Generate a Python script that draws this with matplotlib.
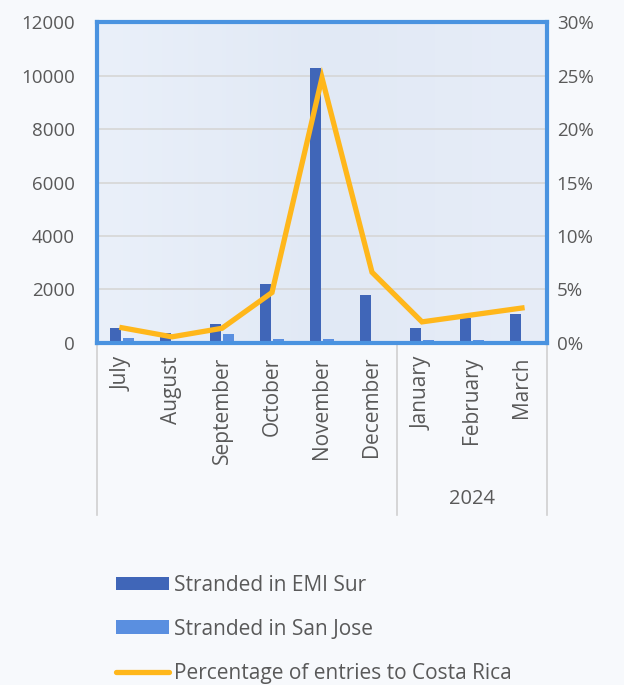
import matplotlib
matplotlib.use("Agg")
import matplotlib.pyplot as plt
import numpy as np
from matplotlib.patches import Patch
from matplotlib.lines import Line2D
from matplotlib.ticker import FuncFormatter
from matplotlib.colors import LinearSegmentedColormap

plt.rcParams['font.family'] = ['Open Sans', 'DejaVu Sans']

# ── data ─────────────────────────────────────────────────────────────────────
months = ["July", "August", "September", "October", "November", "December",
          "January", "February", "March"]
year_label = "2024"
emi_sur = [540, 360, 690, 2200, 10280, 1790, 560, 915, 1075]
san_jose = [180, 20, 320, 150, 150, 30, 100, 100, 30]
pct_entries = [1.4, 0.55, 1.35, 4.7, 24.8, 6.6, 1.95, 2.6, 3.25]

TEXT = "#595959"
DARK = "#4066B8"
LIGHT = "#5A8FE0"
GOLD = "#FFB71B"
FRAME = "#4A93E0"

fig = plt.figure(figsize=(6.24, 6.85), dpi=100)
fig.patch.set_facecolor("#F7F9FC")
ax = fig.add_axes([0.1554, 0.4997, 0.7212, 0.4677])

x = np.arange(len(months))
ax.set_xlim(-0.5, len(months) - 0.5)
ax.set_ylim(0, 12000)

# soft horizontal gradient behind the plot area
grad = LinearSegmentedColormap.from_list("bg", ["#EAF0FA", "#E1E9F5", "#E7EDF8"])
ax.imshow(np.linspace(0, 1, 256)[None, :], cmap=grad, aspect="auto",
          extent=(-0.5, len(months) - 0.5, 0, 12000), zorder=0)

w = 0.22
ax.bar(x - 0.135, emi_sur, width=w, color=DARK, zorder=2)
ax.bar(x + 0.135, san_jose, width=w, color=LIGHT, zorder=2)

ax.set_yticks(np.arange(0, 12001, 2000))
ax.yaxis.grid(True, color="#D6D6D6", linewidth=1.2)
ax.set_axisbelow(True)
ax.tick_params(axis="y", length=0, pad=16, labelsize=13.5, labelcolor=TEXT)
ax.set_xticks(x)
ax.set_xticklabels(months, rotation=90, va="top", ha="center")
ax.tick_params(axis="x", length=0, pad=10, labelsize=15, labelcolor=TEXT)
for s in ax.spines.values():
    s.set_color(FRAME)
    s.set_linewidth(3.0)

ax2 = ax.twinx()
ax2.plot(x, pct_entries, color=GOLD, linewidth=3.8, solid_joinstyle="miter", zorder=3)
ax2.set_ylim(0, 30)
ax2.set_yticks(np.arange(0, 31, 5))
ax2.yaxis.set_major_formatter(FuncFormatter(lambda v, _: f"{v:.0f}%"))
ax2.tick_params(axis="y", length=0, pad=7, labelsize=13.5, labelcolor=TEXT)
for s in ax2.spines.values():
    s.set_visible(False)

# category group separators and year label
tr = ax.get_xaxis_transform()
for xs in (-0.5, 5.5, len(months) - 0.5):
    ax.plot([xs, xs], [-0.008, -0.537], transform=tr, color="#D0D0D0",
            linewidth=1.2, clip_on=False)
ax.text(7, -0.488, year_label, transform=tr, ha="center", va="center",
        fontsize=14.5, color=TEXT)

handles = [Patch(facecolor=DARK), Patch(facecolor=LIGHT),
           Line2D([], [], color=GOLD, linewidth=3.8, solid_capstyle="round")]
labels = ["Stranded in EMI Sur", "Stranded in San Jose",
          "Percentage of entries to Costa Rica"]
leg = fig.legend(handles, labels, loc="upper left", bbox_to_anchor=(0.173, 0.173),
                 frameon=False, fontsize=15, labelspacing=1.1, handlelength=2.55,
                 handleheight=0.65, handletextpad=0.2, borderaxespad=0)
for t in leg.get_texts():
    t.set_color(TEXT)

fig.savefig("out.png", dpi=100, facecolor=fig.get_facecolor())
